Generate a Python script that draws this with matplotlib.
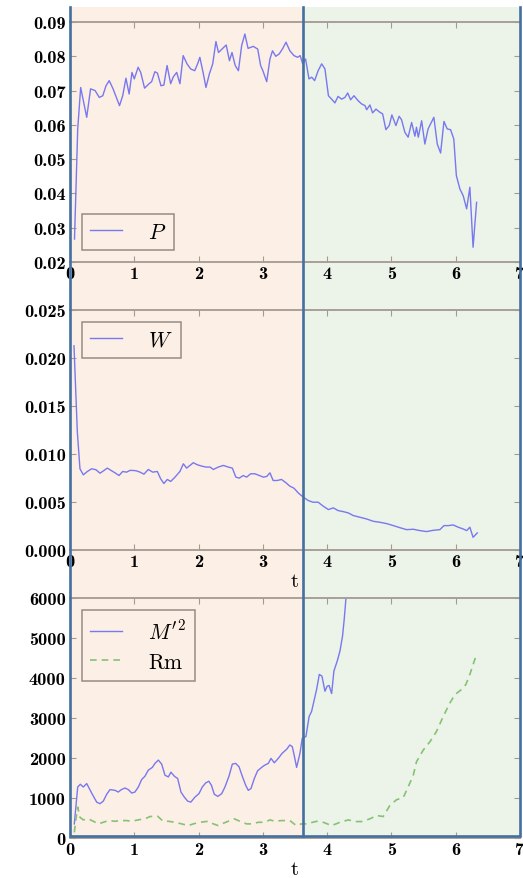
import matplotlib
matplotlib.use("Agg")
import matplotlib.pyplot as plt
from matplotlib.ticker import FixedLocator, FuncFormatter

plt.rcParams['mathtext.fontset'] = 'cm'
plt.rcParams['font.family'] = ['cmb10', 'DejaVu Serif']
plt.rcParams['axes.unicode_minus'] = False

# ---------------- data ----------------
t_P = [0.07, 0.12, 0.166, 0.26, 0.32, 0.39, 0.456, 0.51, 0.56, 0.61, 0.67, 0.77, 0.82, 0.87, 0.92,
       0.964, 1.0, 1.06, 1.1, 1.16, 1.23, 1.27, 1.32, 1.36, 1.415, 1.46, 1.51, 1.566, 1.607, 1.66,
       1.71, 1.76, 1.82, 1.877, 1.94, 1.985, 2.02, 2.07, 2.115, 2.167, 2.22, 2.27, 2.31, 2.375, 2.43,
       2.48, 2.52, 2.57, 2.62, 2.67, 2.72, 2.77, 2.85, 2.92, 2.965, 3.0, 3.06, 3.11, 3.15, 3.2,
       3.255, 3.31, 3.36, 3.42, 3.484, 3.54, 3.58, 3.62, 3.665, 3.717, 3.76, 3.805, 3.86, 3.915, 3.966,
       4.02, 4.07, 4.12, 4.17, 4.225, 4.277, 4.32, 4.365, 4.417, 4.484, 4.536, 4.59, 4.614, 4.665, 4.707,
       4.76, 4.81, 4.863, 4.914, 4.966, 5.007, 5.07, 5.12, 5.157, 5.21, 5.26, 5.314, 5.365, 5.39, 5.418,
       5.47, 5.52, 5.57, 5.66, 5.713, 5.765, 5.817, 5.868, 5.92, 5.97, 6.01, 6.065, 6.117, 6.17, 6.22,
       6.27, 6.325]
P = [0.0267, 0.0588, 0.0709, 0.0622, 0.0705, 0.0700, 0.0680, 0.0685, 0.0714, 0.0729, 0.0705, 0.0656, 0.0685, 0.0736, 0.0690,
     0.0753, 0.0734, 0.0768, 0.0753, 0.0707, 0.0720, 0.0726, 0.0755, 0.0751, 0.0714, 0.0716, 0.0773, 0.0720, 0.0740, 0.0753,
     0.0720, 0.0802, 0.0778, 0.0763, 0.0758, 0.0778, 0.0797, 0.0753, 0.0709, 0.0748, 0.0778, 0.0843, 0.0811, 0.0823, 0.0833,
     0.0787, 0.0811, 0.0773, 0.0758, 0.0831, 0.0865, 0.0823, 0.0829, 0.0821, 0.0773, 0.0758, 0.0726, 0.0792, 0.0816, 0.0800,
     0.0807, 0.0823, 0.0841, 0.0816, 0.0802, 0.0797, 0.0802, 0.0778, 0.0792, 0.0734, 0.0739, 0.0729, 0.0758, 0.0778, 0.0763,
     0.0685, 0.0675, 0.0664, 0.0683, 0.0675, 0.0680, 0.0693, 0.0673, 0.0685, 0.0670, 0.0661, 0.0656, 0.0644, 0.0658, 0.0635,
     0.0646, 0.0638, 0.0632, 0.0586, 0.0598, 0.0629, 0.0598, 0.0625, 0.0615, 0.0578, 0.0564, 0.0607, 0.0567, 0.0593, 0.0564,
     0.0612, 0.0544, 0.0588, 0.0622, 0.0544, 0.0518, 0.0610, 0.0588, 0.0586, 0.0559, 0.0452, 0.0413, 0.0393, 0.0355, 0.0418,
     0.0243, 0.0374]

t_W = [0.062, 0.114, 0.155, 0.207, 0.27, 0.337, 0.404, 0.467, 0.53, 0.58, 0.638, 0.70, 0.762, 0.82, 0.88,
       0.933, 0.975, 1.03, 1.09, 1.15, 1.218, 1.286, 1.358, 1.41, 1.46, 1.514, 1.566, 1.633, 1.71, 1.763,
       1.814, 1.866, 1.918, 1.98, 2.048, 2.115, 2.177, 2.23, 2.307, 2.385, 2.462, 2.525, 2.58, 2.633, 2.695,
       2.748, 2.81, 2.877, 2.945, 3.007, 3.06, 3.11, 3.16, 3.224, 3.29, 3.36, 3.42, 3.484, 3.55, 3.63,
       3.707, 3.78, 3.86, 3.94, 4.02, 4.095, 4.17, 4.25, 4.33, 4.406, 4.51, 4.61, 4.718, 4.82, 4.925,
       5.03, 5.13, 5.236, 5.34, 5.443, 5.547, 5.65, 5.754, 5.817, 5.884, 5.96, 6.04, 6.117, 6.17, 6.22,
       6.27, 6.335]
W = [0.02127, 0.0123, 0.00846, 0.00783, 0.00818, 0.00846, 0.00836, 0.0080, 0.00829, 0.00853, 0.00829, 0.00804, 0.00776, 0.00818, 0.00811,
     0.00829, 0.00829, 0.00825, 0.00811, 0.0079, 0.00839, 0.00811, 0.00818, 0.00742, 0.00693, 0.00735, 0.00714, 0.00759, 0.00818, 0.00898,
     0.00853, 0.00881, 0.00909, 0.00888, 0.00874, 0.00864, 0.00864, 0.00839, 0.00864, 0.00881, 0.00864, 0.00853, 0.00759, 0.00749, 0.00776,
     0.00759, 0.00794, 0.00794, 0.00776, 0.00759, 0.00766, 0.00804, 0.00724, 0.00724, 0.00735, 0.0070, 0.00665, 0.00644, 0.00595, 0.0055,
     0.00515, 0.00498, 0.00498, 0.00456, 0.00421, 0.00439, 0.00411, 0.0040, 0.00386, 0.00359, 0.00341, 0.00324, 0.00299, 0.00289, 0.00275,
     0.00254, 0.00233, 0.00212, 0.00216, 0.00202, 0.00192, 0.00205, 0.00212, 0.00254, 0.00254, 0.00261, 0.00237, 0.00219, 0.00202, 0.00237,
     0.00132, 0.00178]

t_M = [0.067, 0.12, 0.16, 0.207, 0.26, 0.337, 0.415, 0.466, 0.518, 0.57, 0.622, 0.70, 0.75, 0.80, 0.855,
       0.907, 0.96, 1.01, 1.063, 1.115, 1.166, 1.218, 1.28, 1.322, 1.374, 1.426, 1.477, 1.53, 1.57, 1.623,
       1.675, 1.726, 1.778, 1.83, 1.88, 1.944, 2.006, 2.058, 2.11, 2.16, 2.20, 2.245, 2.30, 2.36, 2.41,
       2.473, 2.525, 2.577, 2.63, 2.68, 2.733, 2.773, 2.815, 2.867, 2.918, 2.98, 3.03, 3.085, 3.126, 3.178,
       3.24, 3.30, 3.37, 3.42, 3.458, 3.49, 3.525, 3.577, 3.613, 3.67, 3.72, 3.758, 3.80, 3.836, 3.878,
       3.919, 3.966, 4.0, 4.03, 4.07, 4.105, 4.157, 4.2, 4.24, 4.266, 4.292, 4.32, 4.37]
M2 = [352, 1275, 1343, 1275, 1361, 1124, 897, 857, 922, 1091, 1210, 1192, 1149, 1210, 1250,
      1210, 1124, 1149, 1275, 1462, 1545, 1696, 1764, 1865, 1948, 1847, 1570, 1527, 1646, 1545,
      1487, 1149, 1023, 922, 897, 1023, 1109, 1275, 1376, 1419, 1318, 1091, 1041, 1109, 1275,
      1545, 1847, 1865, 1779, 1545, 1318, 1192, 1235, 1487, 1679, 1764, 1822, 1865, 1991, 1880,
      1991, 2117, 2218, 2326, 2283, 2049, 1764, 2117, 2495, 2535, 3039, 3165, 3460, 3712, 4090,
      4047, 3669, 3795, 3813, 3611, 4173, 4425, 4677, 5055, 5476, 5980, 6600, 7600]

t_Rm = [0.067, 0.093, 0.12, 0.155, 0.207, 0.285, 0.363, 0.44, 0.518, 0.60, 0.70, 0.777, 0.88, 0.96, 1.06,
        1.166, 1.244, 1.363, 1.45, 1.53, 1.633, 1.737, 1.84, 1.918, 2.02, 2.15, 2.23, 2.307, 2.385, 2.488,
        2.555, 2.644, 2.747, 2.825, 2.93, 3.03, 3.11, 3.188, 3.29, 3.42, 3.52, 3.60, 3.68, 3.836, 3.94,
        4.07, 4.2, 4.33, 4.432, 4.536, 4.665, 4.77, 4.872, 4.976, 5.08, 5.183, 5.26, 5.34, 5.39, 5.495,
        5.6, 5.7, 5.806, 5.91, 5.988, 6.09, 6.158, 6.22, 6.324]
Rm = [141, 479, 771, 519, 453, 479, 418, 353, 393, 436, 418, 436, 436, 418, 453,
      479, 537, 544, 418, 418, 393, 353, 310, 353, 393, 418, 353, 310, 368, 436,
      479, 418, 353, 353, 393, 393, 453, 418, 436, 436, 310, 353, 353, 418, 393,
      310, 393, 453, 411, 411, 479, 562, 537, 814, 958, 1008, 1275, 1570, 1905, 2200,
      2409, 2661, 3039, 3377, 3586, 3712, 3838, 4090, 4594]

t_split = 3.62
x_ticks = [0, 1, 2, 3, 4, 5, 6, 7]
P_ticks = [0.02, 0.03, 0.04, 0.05, 0.06, 0.07, 0.08, 0.09]
W_ticks = [0.000, 0.005, 0.010, 0.015, 0.020, 0.025]
M_ticks = [0, 1000, 2000, 3000, 4000, 5000, 6000]

# ---------------- figure ----------------
W_PX, H_PX = 523, 879
fig = plt.figure(figsize=(W_PX / 100, H_PX / 100), dpi=100)

def fx(px):
    return px / W_PX

def fy(py):
    return 1 - py / H_PX

L, R = 70, 520
orange = '#fcefe5'
green = '#ecf3e8'
blue_edge = '#43709e'
line_col = '#7878f0'
rm_col = '#86c273'
spine_col = '#a39a92'

# background shading axes
bg = fig.add_axes([fx(L), fy(837), fx(R) - fx(L), fy(8) - fy(837)], zorder=-5)
bg.set_xlim(0, 7)
bg.set_ylim(0, 1)
bg.axvspan(0, t_split, color=orange, lw=0)
bg.axvspan(t_split, 7, color=green, lw=0)
bg.axis('off')

panels = [(23, 263), (311, 551), (599, 839)]
axes = []
for top, bot in panels:
    ax = fig.add_axes([fx(L), fy(bot), fx(R) - fx(L), fy(top) - fy(bot)])
    ax.patch.set_visible(False)
    ax.set_xlim(0, 7)
    ax.xaxis.set_major_locator(FixedLocator(x_ticks))
    ax.xaxis.set_major_formatter(FuncFormatter(lambda v, p: f"{int(round(v))}"))
    for s in ['left', 'right']:
        ax.spines[s].set_visible(False)
    for s in ['top', 'bottom']:
        ax.spines[s].set_color(spine_col)
        ax.spines[s].set_linewidth(1.3)
    ax.tick_params(direction='in', top=True, right=True, length=4, width=0.8,
                   color=spine_col, labelsize=13.2, pad=3)
    axes.append(ax)

ax1, ax2, ax3 = axes

ax1.plot(t_P, P, color=line_col, lw=1.0, label=r'$P$')
ax1.set_ylim(0.02, 0.09)
ax1.yaxis.set_major_locator(FixedLocator(P_ticks))
ax1.yaxis.set_major_formatter(FuncFormatter(lambda v, p: f"{v:.2f}"))

ax2.plot(t_W, W, color=line_col, lw=1.0, label=r'$W$')
ax2.set_ylim(0.0, 0.025)
ax2.yaxis.set_major_locator(FixedLocator(W_ticks))
ax2.yaxis.set_major_formatter(FuncFormatter(lambda v, p: f"{v:.3f}"))
ax2.set_xlabel('t', family='cmr10', fontsize=15, labelpad=2)

ax3.plot(t_M, M2, color=line_col, lw=1.0, label=r"$M'^2$")
ax3.plot(t_Rm, Rm, color=rm_col, lw=1.2, ls=(0, (4, 3)), label=r'$\mathrm{Rm}$')
ax3.set_ylim(0, 6000)
ax3.yaxis.set_major_locator(FixedLocator(M_ticks))
ax3.yaxis.set_major_formatter(FuncFormatter(lambda v, p: f"{int(round(v))}"))
ax3.set_xlabel('t', family='cmr10', fontsize=15, labelpad=2)

leg_kw = dict(fontsize=15.5, fancybox=False, handlelength=1.45,
              handletextpad=1.2, borderaxespad=0.55, borderpad=0.4)
for ax, loc in [(ax1, 'lower left'), (ax2, 'upper left'), (ax3, 'upper left')]:
    lg = ax.legend(loc=loc, **leg_kw)
    fr = lg.get_frame()
    fr.set_facecolor('none')
    fr.set_edgecolor('#7d746c')
    fr.set_linewidth(1.1)

# overlay with blue boundary lines (left, right, bottom, split)
ov = fig.add_axes([fx(L), fy(837), fx(R) - fx(L), fy(8) - fy(837)], zorder=10)
ov.set_xlim(0, 7)
ov.set_ylim(0, 1)
ov.patch.set_visible(False)
ov.axis('off')
ov.plot([0, 0, 7, 7], [1, 0, 0, 1], color=blue_edge, lw=1.9, clip_on=False,
        solid_joinstyle='miter')
ov.plot([t_split, t_split], [0, 1], color=blue_edge, lw=1.9, clip_on=False)

fig.savefig('out.png', dpi=100)
